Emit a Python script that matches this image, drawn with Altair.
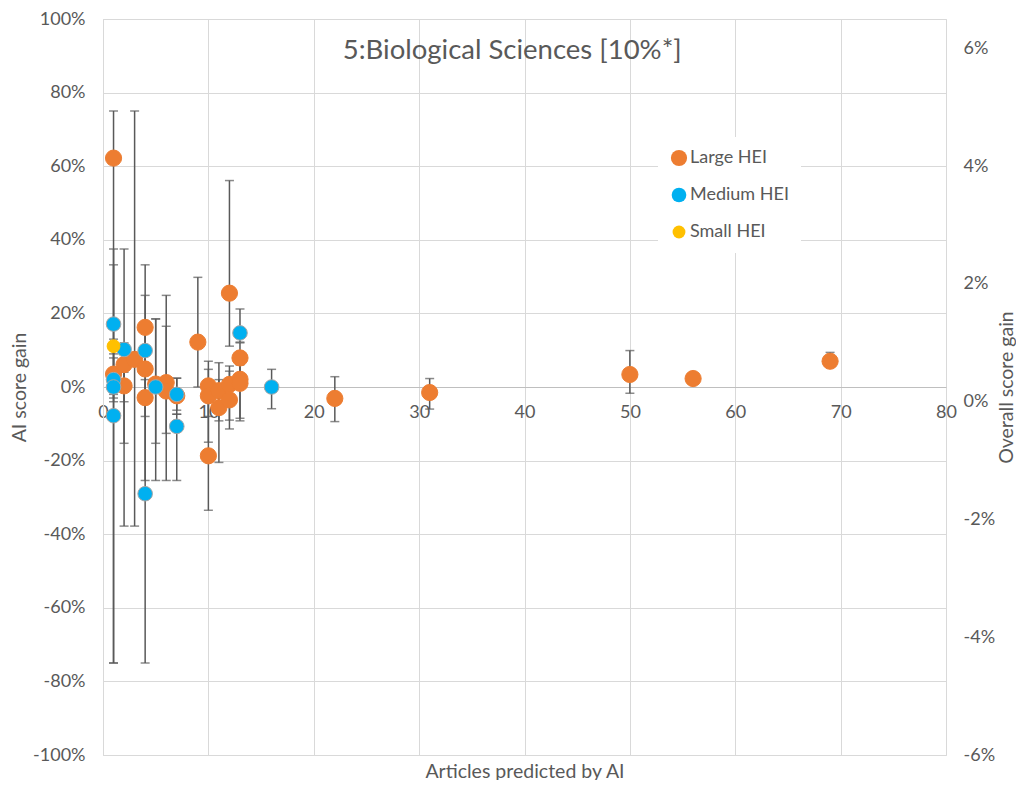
import altair as alt
import pandas as pd

# ---------------- data (in %) ----------------
series_names = ["Large HEI", "Medium HEI", "Small HEI"]
series_colors = ["#ED7D31", "#00B0F0", "#FFC000"]
series_strokes = ["#ED7D31", "#A5A5A5", "#FFC000"]
series_sizes = [262, 165, 105]

large_x = [1, 1, 2, 2, 3, 4, 4, 4, 5, 6, 6, 7, 9, 10, 10, 10, 11, 11, 12, 12, 12,
           13, 13, 13, 22, 31, 50, 56, 69]
large_y = [62.2, 3.5, 6.1, 0.3, 7.5, 16.2, 4.9, -2.9, 0.8, 1.2, -1.1, -2.4, 12.2,
           0.3, -2.4, -18.7, -1.0, -5.6, 25.5, 0.7, -3.5, 7.9, 2.1, 1.0, -3.1,
           -1.5, 3.4, 2.3, 7.0]
large_lo = [-75, -1, -37.8, -4, -37.8, 5, -25.4, -8, -15.3, -25.4, -12.6, -7.4, 0,
            -8, -15, -33.5, -9.2, -20.5, 11.1, -11.4, -9, 2, -9.2, -8.5, -9.4,
            -6.0, -1.7, 1.0, 5.5]
large_hi = [75, 7.9, 37.5, 4, 75, 33.2, 24.9, 2, 18.5, 24.9, 16.5, 2.4, 29.8,
            7.0, 4.8, -4, 6.6, 2, 56.1, 5.7, 4.3, 12, 8, 6, 2.8,
            2.3, 9.9, 3.6, 9.4]

medium_x = [1, 1, 1, 1, 2, 4, 4, 5, 7, 7, 13, 16]
medium_y = [17.1, 2.0, 0.0, -7.8, 10.2, 9.9, -29.0, 0.0, -2.0, -10.7, 14.7, 0.0]
medium_lo = [-2, -3, -4, -75, -15.3, 4, -75, -25.4, -6.3, -25.4, 12.2, -5.9]
medium_hi = [37.5, 33.2, 4, 0, 12, 16, 10, 18.5, 2.4, -7.4, 21.2, 4.8]

small_x = [1]
small_y = [11.1]
small_lo = [9]
small_hi = [13]

x_ticks = [0, 10, 20, 30, 40, 50, 60, 70, 80]
left_ticks = [-100, -80, -60, -40, -20, 0, 20, 40, 60, 80, 100]
right_ticks = [-6, -4, -2, 0, 2, 4, 6]
right_domain = [-6, 6.5]

# ---------------- table ----------------
rows = []
groups = [(large_x, large_y, large_lo, large_hi),
          (medium_x, medium_y, medium_lo, medium_hi),
          (small_x, small_y, small_lo, small_hi)]
for k, (xs, ys, los, his) in enumerate(groups):
    for x, y, lo, hi in zip(xs, ys, los, his):
        rows.append(dict(series=series_names[k], z=k, x=x,
                         y=y / 100, lo=lo / 100, hi=hi / 100))
df = pd.DataFrame(rows)
right_df = pd.DataFrame({"v": [v / 100 for v in right_domain]})

FONT = "Lato"
GRAY = "#595959"
GRID = "#D9D9D9"
LBL = 18
TTL = 19.5
H = 736
HALF = H // 2
pct_expr = "(datum.value < 0 ? '-' : '') + format(abs(datum.value), '.0%')"

x_scale = alt.Scale(domain=[0, 80], nice=False, zero=True)
x_axis = alt.Axis(orient="bottom", offset=-HALF, values=x_ticks, ticks=False, tickSize=0,
                  labelPadding=16, labelFontSize=LBL, labelColor=GRAY, labelFont=FONT,
                  labelFlush=False, labelOverlap=False,
                  domainColor="#BFBFBF", domainWidth=1,
                  grid=True, gridColor=GRID, gridWidth=1,
                  title="Articles predicted by AI", titleFont=FONT, titleFontSize=TTL,
                  titleFontWeight="normal", titleColor=GRAY, titleY=HALF + 16,
                  titleBaseline="middle")
y_scale = alt.Scale(domain=[-1, 1], nice=False)
y_axis = alt.Axis(orient="left", values=[t / 100 for t in left_ticks], labelExpr=pct_expr,
                  ticks=False, tickSize=0, labelPadding=18, labelFontSize=LBL,
                  labelColor=GRAY, labelFont=FONT, labelFlush=False,
                  domainColor=GRID, domainWidth=1,
                  grid=True, gridColor=GRID, gridWidth=1,
                  title="AI score gain", titleFont=FONT, titleFontSize=TTL,
                  titleFontWeight="normal", titleColor=GRAY, titleX=-84, titleY=HALF,
                  titleAngle=270, titleAlign="center", titleBaseline="middle")

x_enc = alt.X("x:Q", scale=x_scale, axis=x_axis)

rules = alt.Chart(df).mark_rule(color="#595959", strokeWidth=1.5).encode(
    x=x_enc,
    y=alt.Y("lo:Q", scale=y_scale, axis=y_axis),
    y2="hi:Q",
)
caps_lo = alt.Chart(df).mark_tick(orient="horizontal", color="#595959", size=9,
                                  thickness=1.5).encode(
    x=x_enc, y=alt.Y("lo:Q", scale=y_scale, axis=y_axis))
caps_hi = alt.Chart(df).mark_tick(orient="horizontal", color="#595959", size=9,
                                  thickness=1.5).encode(
    x=x_enc, y=alt.Y("hi:Q", scale=y_scale, axis=y_axis))

points = alt.Chart(df).mark_circle(opacity=1, strokeWidth=1).encode(
    x=x_enc,
    y=alt.Y("y:Q", scale=y_scale, axis=y_axis),
    color=alt.Color("series:N",
                    scale=alt.Scale(domain=series_names, range=series_colors),
                    legend=alt.Legend(title=None, orient="none", legendX=555, legendY=118,
                                      symbolType="circle", symbolSize=125,
                                      symbolStrokeWidth=0,
                                      labelFontSize=18, labelFont=FONT, labelColor=GRAY,
                                      rowPadding=19, padding=12, fillColor="white",
                                      labelOffset=2)),
    size=alt.Size("series:N", scale=alt.Scale(domain=series_names, range=series_sizes),
                  legend=None),
    stroke=alt.Stroke("series:N", scale=alt.Scale(domain=series_names, range=series_strokes),
                      legend=None),
    order=alt.Order("z:Q"),
)

inner = alt.layer(rules, caps_lo, caps_hi, points)

right = alt.Chart(right_df).mark_point(opacity=0).encode(
    x=alt.value(0),
    y=alt.Y("v:Q",
            scale=alt.Scale(domain=[v / 100 for v in right_domain], nice=False, zero=False),
            axis=alt.Axis(orient="right", values=[t / 100 for t in right_ticks],
                          labelExpr=pct_expr, ticks=False, tickSize=0, labelPadding=17,
                          labelFontSize=LBL, labelColor=GRAY, labelFont=FONT,
                          labelFlush=False, domain=False, grid=False,
                          title="Overall score gain", titleFont=FONT, titleFontSize=TTL,
                          titleFontWeight="normal", titleColor=GRAY, titleX=60,
                          titleY=HALF, titleAngle=270, titleAlign="center",
                          titleBaseline="middle")),
)

chart = alt.layer(inner, right).resolve_scale(y="independent").properties(
    width=843,
    height=H,
    title=alt.TitleParams(text="5:Biological Sciences [10%*]", font=FONT, fontSize=27.5,
                          fontWeight="normal", color=GRAY, anchor="middle",
                          baseline="middle", offset=-68, frame="bounds"),
    autosize=alt.AutoSizeParams(type="none"),
    padding={"left": 95, "top": 11, "right": 70, "bottom": 25},
).configure_view(strokeWidth=0).configure(background="white")

chart.save("out.html", embed_options={"renderer": "svg", "actions": False})
